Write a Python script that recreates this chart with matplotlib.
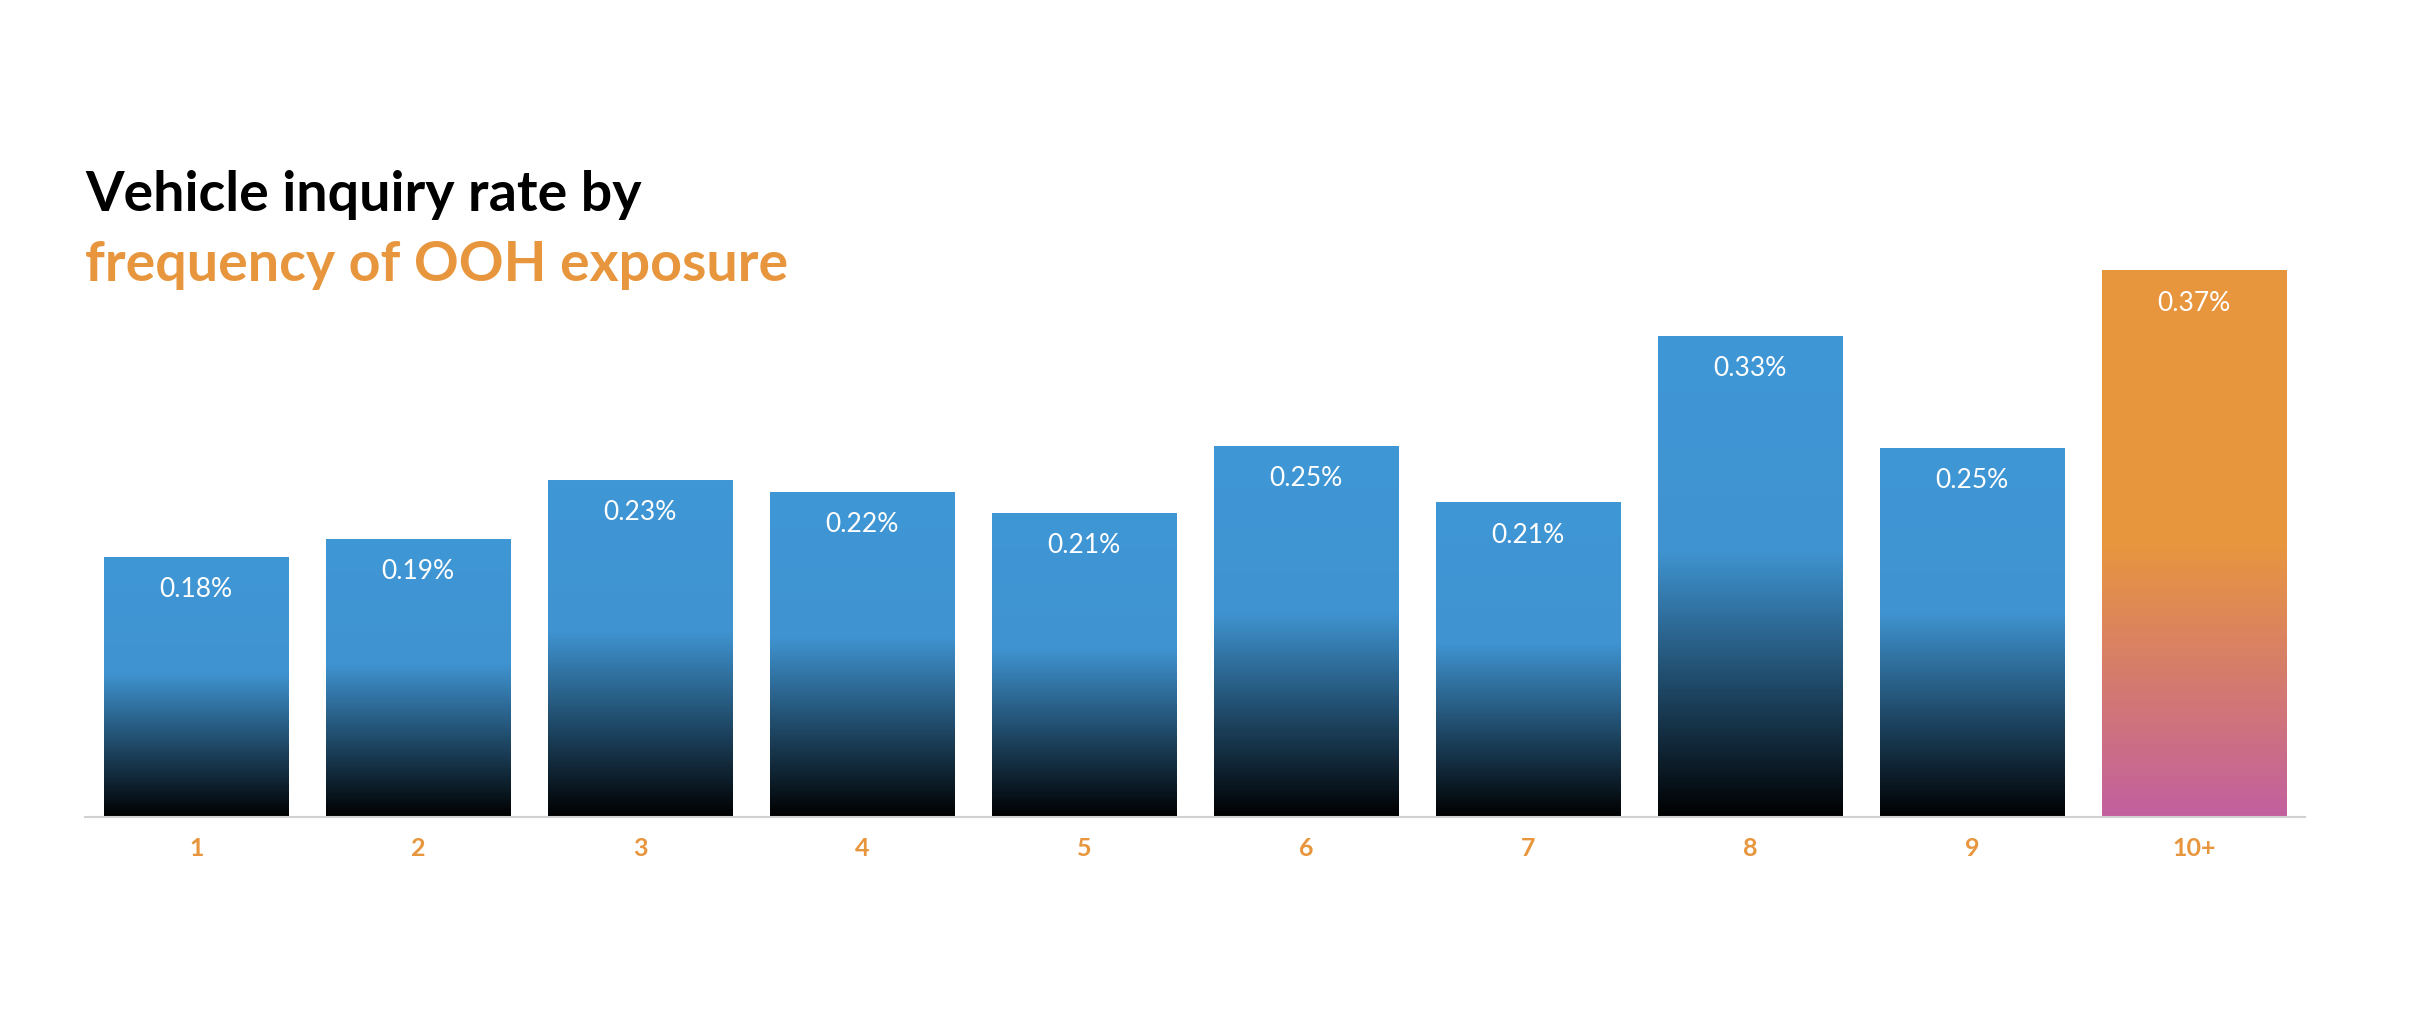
import numpy as np
import matplotlib
matplotlib.use("Agg")
import matplotlib.pyplot as plt
from matplotlib.colors import LinearSegmentedColormap
from matplotlib.patches import Rectangle

categories = ["1", "2", "3", "4", "5", "6", "7", "8", "9", "10+"]
values = [0.176, 0.188, 0.228, 0.220, 0.206, 0.251, 0.213, 0.326, 0.250, 0.370]

plt.rcParams['font.family'] = ['Lato', 'DejaVu Sans']
fig = plt.figure(figsize=(24.34, 10.28), dpi=100)
ax = fig.add_axes([0.035, 0.205, 0.912, 0.575])
ax.set_xlim(-0.5, 9.5)
ax.set_ylim(0, 0.4)

blue_cmap = LinearSegmentedColormap.from_list("b", [(0, "#000000"), (0.55, "#3F93D0"), (1, "#4097D6")])
orange_cmap = LinearSegmentedColormap.from_list("o", [(0, "#C2609F"), (0.5, "#E8963E"), (1, "#E8963E")])

w = 0.83
for i, v in enumerate(values):
    cmap = orange_cmap if i == len(values) - 1 else blue_cmap
    grad = np.linspace(0, 1, 256).reshape(-1, 1)
    im = ax.imshow(grad, cmap=cmap, origin="lower", aspect="auto",
                   extent=(i - w / 2, i + w / 2, 0, v), zorder=2)
    rect = Rectangle((i - w / 2, 0), w, v, transform=ax.transData, facecolor="none", edgecolor="none")
    ax.add_patch(rect)
    im.set_clip_path(rect)
    ax.text(i, v - 0.022, f"{v:.2f}%", ha="center", va="center", color="white", fontsize=19, zorder=3)

ax.set_xlim(-0.5, 9.5)
ax.set_ylim(0, 0.4)
ax.set_xticks(range(len(categories)))
ax.set_xticklabels(categories, color="#E8963E", fontweight="bold", fontsize=18)
ax.tick_params(axis="x", length=0, pad=14)
ax.set_yticks([])
for s in ["top", "right", "left"]:
    ax.spines[s].set_visible(False)
ax.spines["bottom"].set_color("#D0D0D0")
ax.spines["bottom"].set_linewidth(1.5)

fig.text(0.035, 0.81, "Vehicle inquiry rate by", fontsize=40, fontweight="bold", color="black", va="center")
fig.text(0.035, 0.742, "frequency of OOH exposure", fontsize=40, fontweight="bold", color="#E8963E", va="center")

fig.savefig("out.png", dpi=100, facecolor="white")
